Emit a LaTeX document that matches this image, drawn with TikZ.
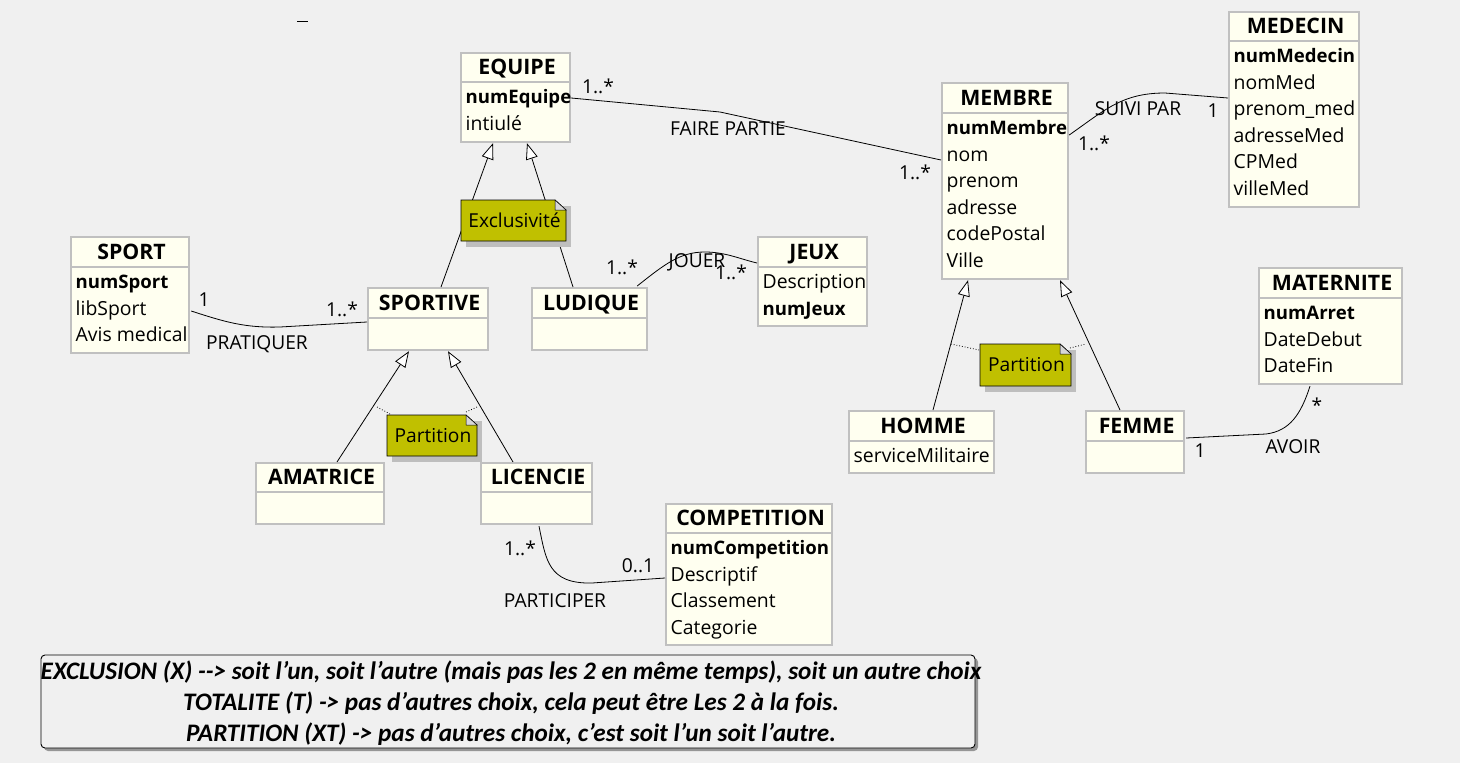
\documentclass[tikz,border=0pt]{standalone}
\usepackage{fontspec}
\setmainfont{Open Sans}
\newfontfamily\carlito{Carlito}
\usetikzlibrary{arrows.meta,calc}
\definecolor{bgc}{RGB}{240,240,240}
\definecolor{clsfill}{RGB}{255,255,240}
\definecolor{clsline}{RGB}{192,192,192}
\definecolor{notefill}{RGB}{192,192,0}
\definecolor{noteshadow}{RGB}{190,190,190}
\definecolor{foldc}{RGB}{215,215,215}
\definecolor{legshadow}{RGB}{150,150,150}
\newcommand\kb[1]{{\fontsize{18.6}{22}\selectfont\bfseries #1}}
\tikzset{
 cls/.style={draw=clsline, line width=2.2pt, fill=clsfill, rectangle, inner sep=0pt, anchor=north west},
 sepline/.style={draw=clsline, line width=2.2pt},
 ttl/.style={font=\fontsize{21.3}{24}\selectfont\bfseries, inner sep=0pt, text height=15pt, text depth=0pt},
 attr/.style={font=\fontsize{19.4}{22}\selectfont, inner sep=0pt, anchor=base west},
 lbl/.style={font=\fontsize{19.2}{22}\selectfont, inner sep=0pt},
 gen/.style={draw=black, line width=0.8pt, -{Triangle[length=16pt, width=12pt, fill=white]}},
 assoc/.style={draw=black, line width=0.8pt},
 notetxt/.style={font=\fontsize{19.2}{22}\selectfont, inner sep=0pt},
 notebody/.style={fill=notefill, draw=black, line width=0.8pt},
 notefold/.style={fill=foldc, draw=black, line width=0.5pt},
 dots/.style={draw=black, line width=0.8pt, dotted},
 legend/.style={font=\carlito\bfseries\itshape\fontsize{25.2}{31}\selectfont, align=center, inner sep=0pt}
}
% name, x, y, w, h, header height, title
\newcommand\umlcls[7]{%
 \node[cls, minimum width=#4pt, minimum height=#5pt] (#1) at (#2,#3) {};
 \draw[sepline] ($(#1.north west)+(0,#6)$) -- ($(#1.north east)+(0,#6)$);
 \node[ttl] (#1-t) at ($(#1.north)+(1.5,{#6/2})$) {#7};
}
% name, header height, list
\newcommand\umlattrs[3]{%
 \foreach \a [count=\i] in {#3}
  \node[attr] (#1-\i) at ($(#1.north west)+(5.5,{#2+21.5+(\i-1)*26.6})$) {\a};
}
% name, x1, y1, x2, y2, text
\newcommand\umlnote[6]{%
 \fill[noteshadow] (#2+5,#3+6) rectangle (#4+5,#5+6);
 \path[notebody] (#2,#3) -- (#4-11,#3) -- (#4,#3+10) -- (#4,#5) -- (#2,#5) -- cycle;
 \path[notefold] (#4-11,#3) -- (#4-11,#3+10) -- (#4,#3+10) -- cycle;
 \node[notetxt] (#1) at ({(#2+#4)/2+1}, {(#3+#5)/2}) {#6};
}
\begin{document}
\begin{tikzpicture}[x=1pt,y=-1pt]
\fill[bgc] (0,0) rectangle (1460,763);
\useasboundingbox (0,0) rectangle (1460,763);

% stray dash
\draw[line width=1pt] (297,21) -- (308,21);

% classes
\umlcls{equipe}{460}{52}{109}{89}{30}{EQUIPE}
\umlattrs{equipe}{30}{\kb{numEquipe}, intiulé}
\umlcls{membre}{941}{82}{126}{196}{31}{MEMBRE}
\umlattrs{membre}{31}{\kb{numMembre}, nom, prenom, adresse, codePostal, Ville}
\umlcls{medecin}{1228}{11}{130}{195}{30}{MEDECIN}
\umlattrs{medecin}{30}{\kb{numMedecin}, nomMed, prenom\_med, adresseMed, CPMed, villeMed}
\umlcls{sport}{70}{236}{118}{116}{31}{SPORT}
\umlattrs{sport}{31}{\kb{numSport}, libSport, Avis medical}
\umlcls{sportive}{367}{287}{120}{62}{31}{SPORTIVE}
\umlcls{ludique}{531}{287}{115}{62}{31}{LUDIQUE}
\umlcls{jeux}{757}{236}{109}{89}{31}{JEUX}
\umlattrs{jeux}{31}{Description, \kb{numJeux}}
\umlcls{amatrice}{255}{462}{128}{61}{30}{AMATRICE}
\umlcls{licencie}{480}{462}{111}{61}{30}{LICENCIE}
\umlcls{homme}{848}{410}{145}{62}{31}{HOMME}
\umlattrs{homme}{31}{serviceMilitaire}
\umlcls{femme}{1085}{410}{98}{62}{31}{FEMME}
\umlcls{maternite}{1258}{267}{143}{116}{31}{MATERNITE}
\umlattrs{maternite}{31}{\kb{numArret}, DateDebut, DateFin}
\umlcls{competition}{665}{503}{166}{141}{30}{COMPETITION}
\umlattrs{competition}{30}{\kb{numCompetition}, Descriptif, Classement, Categorie}

% generalizations
\draw[gen] ($(sportive.north west)+(74,0)$) -- ($(equipe.south west)+(33,0)$);
\draw[gen] ($(ludique.north west)+(42,0)$) -- ($(equipe.south west)+(67,0)$);
\draw[gen] ($(amatrice.north west)+(82,0)$) -- ($(sportive.south west)+(42,0)$);
\draw[gen] ($(licencie.north west)+(33,0)$) -- ($(sportive.south west)+(81,0)$);
\draw[gen] ($(homme.north west)+(85,0)$) -- ($(membre.south west)+(27,0)$);
\draw[gen] ($(femme.north west)+(35,0)$) -- ($(membre.south west)+(119,0)$);

% associations
\draw[assoc] ($(equipe.north east)+(0,46)$) -- (720,112) -- ($(membre.north west)+(0,78)$);
\draw[assoc] ($(membre.north east)+(0,53)$) .. controls (1105,110) and (1122,93) .. (1165,93) -- ($(medecin.north west)+(0,87)$);
\draw[assoc] ($(sport.north east)+(1,75)$) .. controls (225,322) and (245,328) .. (280,327) -- ($(sportive.north west)+(0,35)$);
\draw[assoc] ($(ludique.north east)+(-11,-1)$) .. controls (665,264) and (680,252) .. (705,252) .. controls (725,252) and (740,259) .. ($(jeux.north west)+(0,27)$);
\draw[assoc] ($(licencie.south west)+(59,1)$) .. controls (546,560) and (548,584) .. (592,583) -- ($(competition.north west)+(0,75)$);
\draw[assoc] ($(femme.north east)+(1,28)$) -- (1266,434) .. controls (1290,431) and (1301,414) .. ($(maternite.south west)+(52,1)$);

% association labels
\node[lbl] (l1) at (598,86) {1..*};
\node[lbl] (l2) at (728,129) {FAIRE PARTIE};
\node[lbl] (l3) at (915,172) {1..*};
\node[lbl] (l4) at (1138,109) {SUIVI PAR};
\node[lbl] (l5) at (1213,111) {1};
\node[lbl] (l6) at (1094,143) {1..*};
\node[lbl] (l7) at (204,300) {1};
\node[lbl] (l8) at (342,309) {1..*};
\node[lbl] (l9) at (257,344) {PRATIQUER};
\node[lbl] (l10) at (622,267) {1..*};
\node[lbl] (l11) at (697,262) {JOUER};
\node[lbl] (l12) at (731,272) {1..*};
\node[lbl] (l13) at (520,548) {1..*};
\node[lbl] (l14) at (638,566) {0..1};
\node[lbl] (l15) at (555,601) {PARTICIPER};
\node[lbl] (l16) at (1200,451) {1};
\node[lbl] (l17) at (1317,405) {*};
\node[lbl] (l18) at (1293,447) {AVOIR};

% notes
\umlnote{exclu}{461}{200}{566}{241}{Exclusivité}
\umlnote{partL}{387}{415}{477}{456}{Partition}
\umlnote{partR}{980}{344}{1071}{386}{Partition}
\coordinate (dl1) at (377,407);
\coordinate (dl2) at (466,412);
\coordinate (dr1) at (951,344);
\coordinate (dr2) at (1086,344);
\draw[dots] (dl1) -- (390,414);
\draw[dots] (dl2) -- (477,407);
\draw[dots] (dr1) -- (979,350);
\draw[dots] (1070,348) -- (dr2);

% legend
\fill[legshadow, rounded corners=4pt] (44,658) rectangle (978,751);
\draw[fill=bgc, line width=0.9pt, rounded corners=4pt] (41,655) rectangle (975,748);
\node[legend] (leg) at (511,703) {EXCLUSION (X) --> soit l’un, soit l’autre (mais pas les 2 en même temps), soit un autre choix\\TOTALITE (T) -> pas d’autres choix, cela peut être Les 2 à la fois.\\PARTITION (XT) -> pas d’autres choix, c’est soit l’un soit l’autre.};
\end{tikzpicture}
\end{document}
